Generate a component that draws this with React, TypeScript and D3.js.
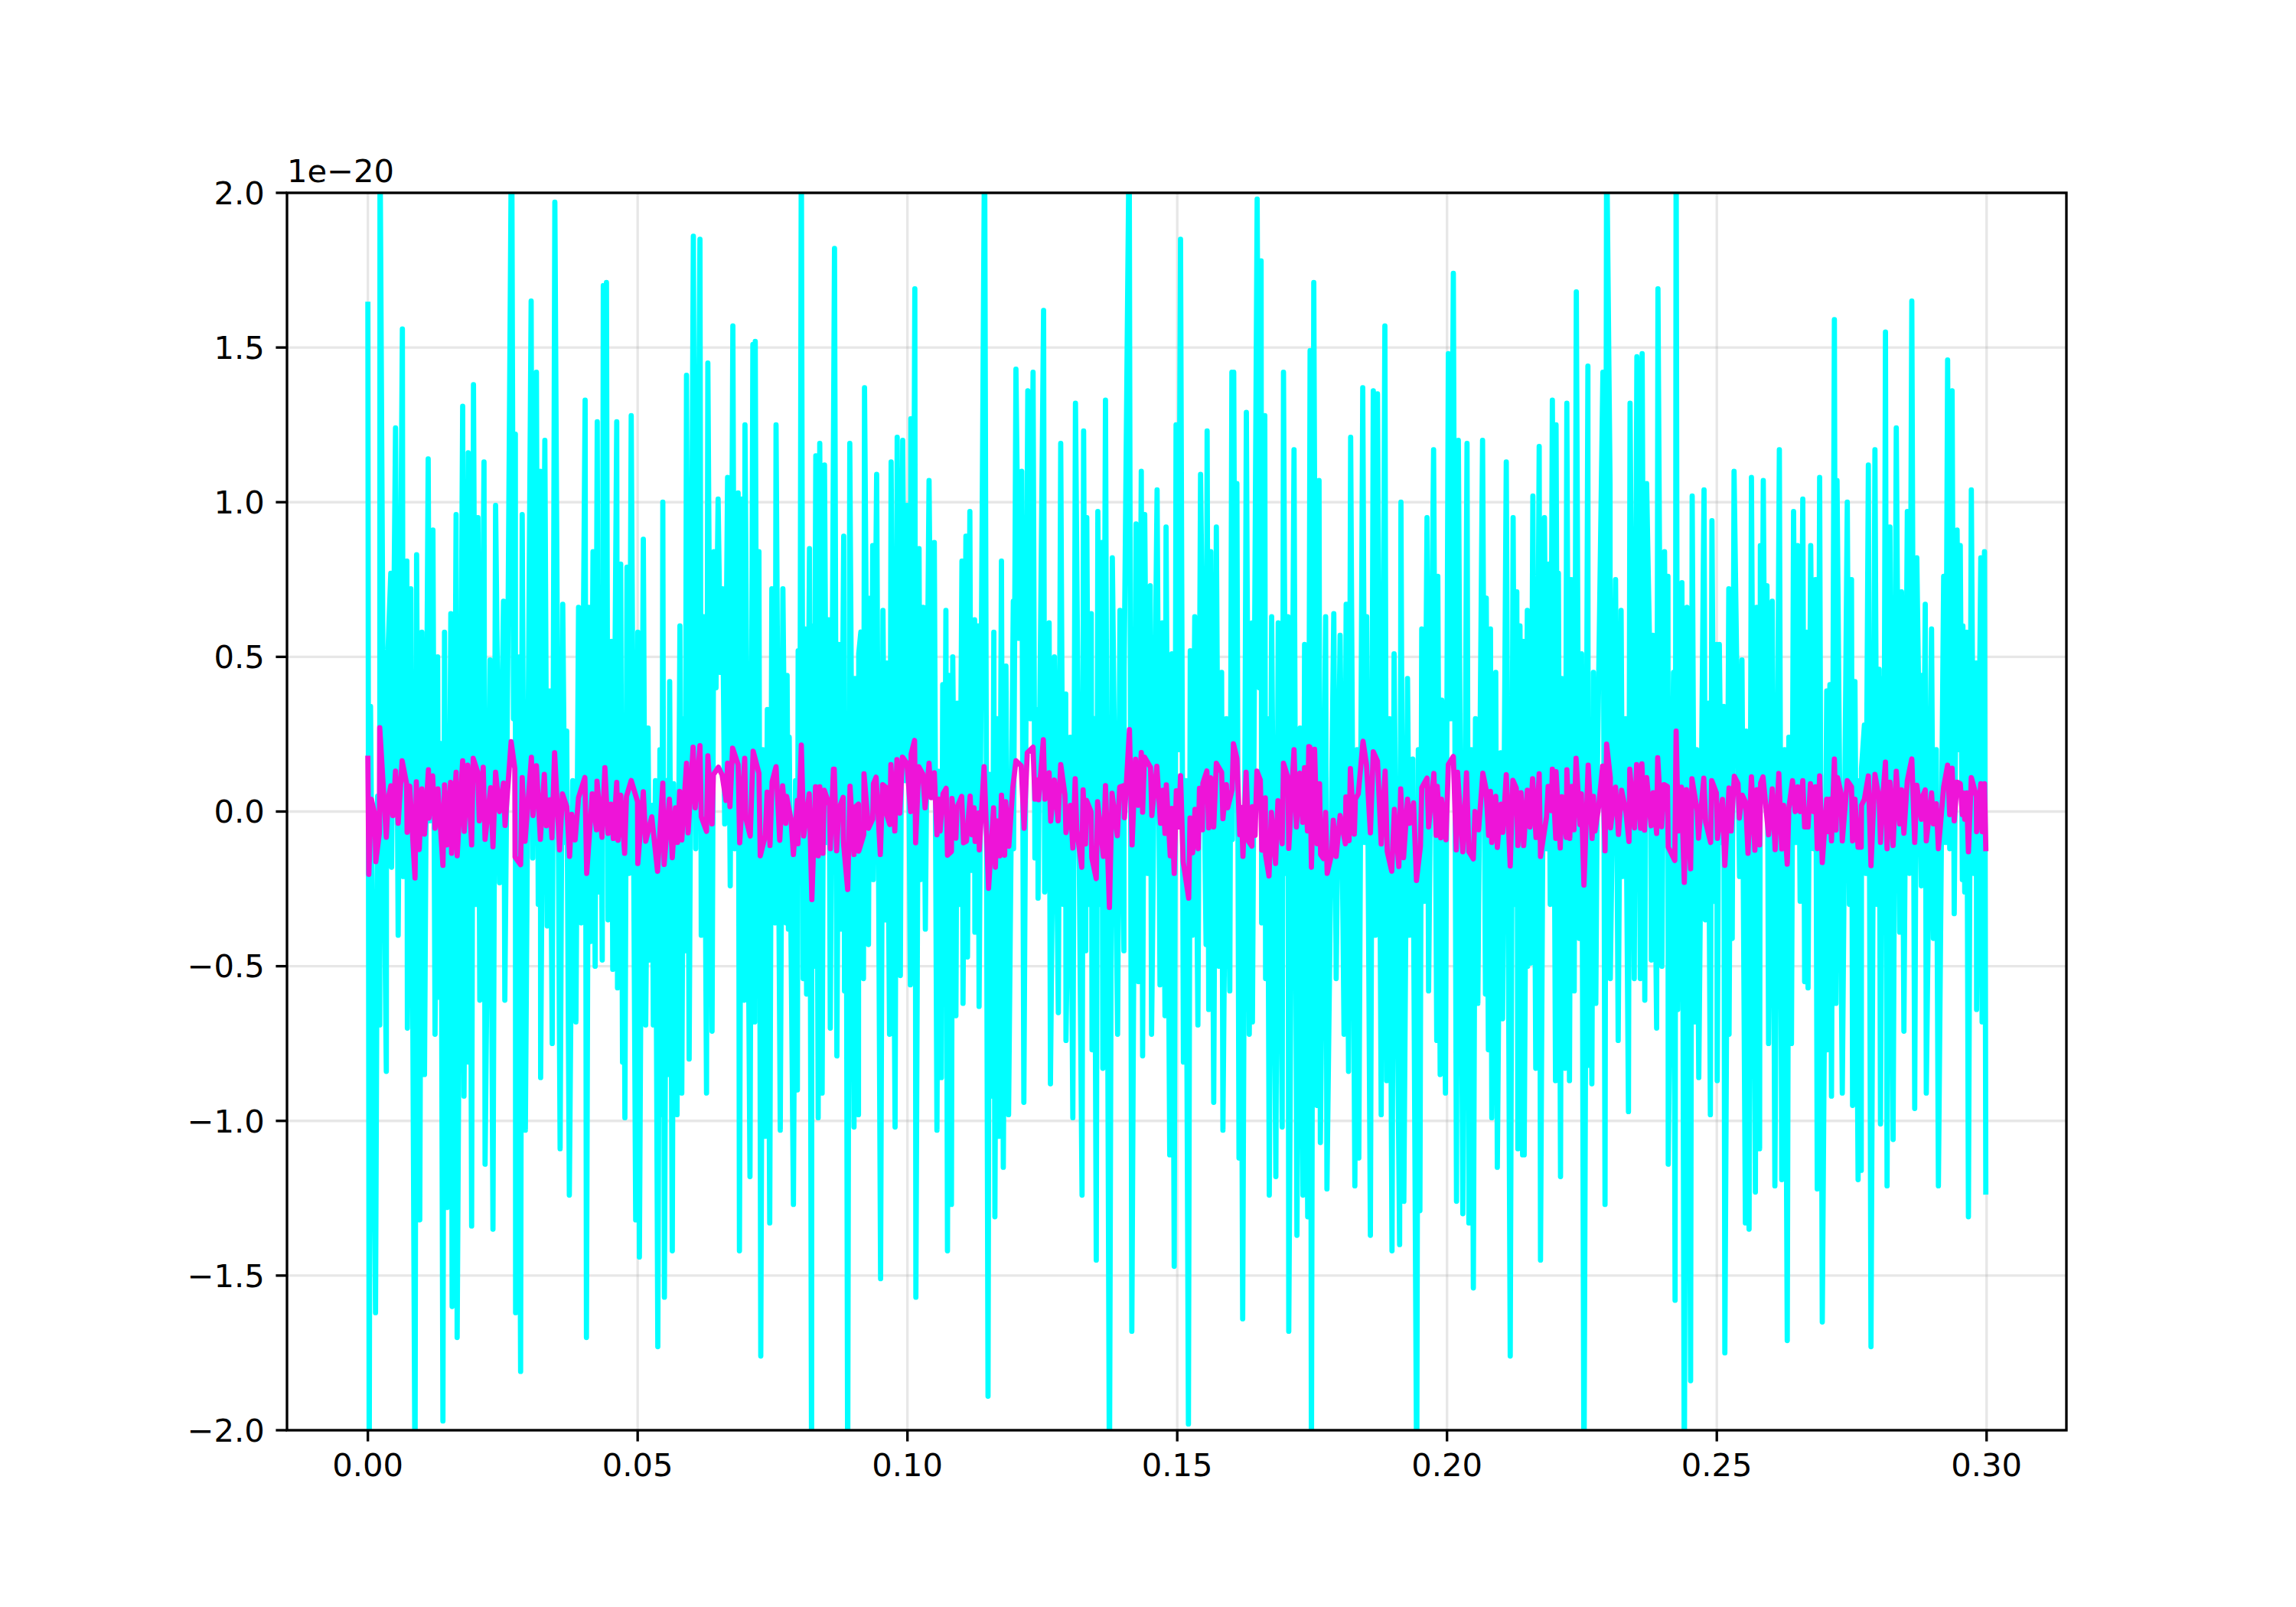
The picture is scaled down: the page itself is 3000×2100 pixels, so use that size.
import React, { useRef, useEffect } from 'react';
import * as d3 from 'd3';

type Reading = [number, number];

// Readings are [sample number, value in units of 1e-20]
const cyanA: Reading[] = [[0,1.64],[.5,-2.2],[1,.34],[2.9,-1.62],[4.5,-.69],[4.6,2.2],[6.1,-.1],[7,-.84],[7.1,.39],[8.7,.77],[9,-.18],[10.5,1.24],[11.5,-.4],[13.1,1.56],[13.4,-.21],[14.8,.81],[15,-.7],[16.3,.72],[17.9,-2.2],[18.5,.83],[19.7,-1.32],[20.5,.58],[21.5,-.85],[22.9,1.14],[23.5,-.03],[24.7,.91],[25.5,-.72],[26.5,.5],[26.9,-.6],[28.5,-1.97],[29.1,.58],[30.1,-1.28],[31.5,.64],[32,-1.6],[33.5,.96],[33.9,-1.7],[36,1.31],[36.5,-.92],[38.1,1.16],[38.2,-.81],[39.4,-1.34],[40.1,1.38],[41.8,.95],[42.5,-.61],[44.1,1.13],[44.5,-1.14],[46.4,.49],[47.5,-1.35],[48.5,.99],[50,-.23],[51.5,.68],[52,-.61],[53.1,.46],[54.6,2.3],[56,1.22],[56.1,-1.62],[58,-1.81],[58.6,.96],[59.8,-1.03],[62,1.65],[62.6,-.15],[64,1.42],[65.5,1.1],[65.6,-.86],[67.2,1.2],[68.1,-.37],[69.1,.39],[70,-.75],[71,1.97],[73,-1.09],[74,.67],[75.5,.26],[76.5,-1.24],[79,-.68],[80,.66],[81,-.36],[82.5,1.33],[83,-1.7],[83.9,.66],[84.6,-.42],[85.5,.84],[87.1,1.26],[87.5,-.26],[89,-.48],[89.4,1.7],[90.6,1.71],[91.2,-.35],[92.5,.55],[93,-.51],[94.5,1.26],[94.8,-.57],[96,.8],[96.7,-.81],[97.6,-.99],[98.4,.79],[100,1.28],[101.7,-1.32],[102.5,.58],[103.1,-1.44],[104.6,.88],[105.5,-.69],[106.4,.27],[107,-.48]];
const cyanB: Reading[] = [[108,.02],[108.4,-.69],[110.1,-1.73],[111.6,-.98],[112,1],[112.6,-1.57],[114.2,-.85],[114.6,.42],[115.6,-1.42],[116.1,.09],[117.4,-.98],[118.5,.6],[119.2,-.91],[120.5,-.45],[121,1.41],[122,-.8],[123.6,1.86],[124.5,-.12],[126.1,1.85],[126.6,-.4],[127.6,.63],[128.6,-.91],[129.1,1.45],[130.7,-.71],[131.4,.84],[133,1.01],[134.7,.72],[135.5,-.04],[136.6,1.08],[137.6,-.24],[138.6,1.57],[139.3,-.12],[140.6,1.03],[141.1,-1.42],[142,1.01],[142.9,-.61],[143.2,1.25],[145.1,-1.18],[146.2,1.51],[146.9,-.68],[147.1,1.52],[148.5,.84],[149.2,-1.76],[150,.2],[150.8,-1.05],[151.7,.33],[152.6,-1.33],[153.4,.72],[154.6,-.36],[155,1.25],[156.6,-1.03],[157.6,.72],[158.8,-.36],[159.2,.44],[159.7,-.38],[160,.24],[161.6,-1.27],[163.1,-.9],[163.4,.52],[164.6,2.2],[165.3,-.54],[166,.59],[166.6,-.59],[167.7,.85],[168.5,-2.2],[168.6,.6],[170.1,1.15],[171,-.99],[171.6,1.19],[172.5,-.91],[173.4,1.12],[175,.62],[175.6,-.7],[177.2,1.82],[178.1,-.79],[178.9,.54],[179.6,-.38],[180.7,.89],[181,-.58],[182.2,-2.2],[183,1.19],[184.6,-1.02],[184.9,.43],[186.3,-.98],[186.4,.51],[187.2,.58],[188.2,-.54],[188.6,1.37],[190.1,-.43],[190.7,.69],[191.7,.86],[191.9,-.22],[193.2,1.09],[194.7,-1.51],[195.6,.65],[196.5,-.35],[197.1,.48],[198.1,-.72],[198.7,1.13],[200.2,-1.02],[201,1.21],[202.2,-.53],[203.1,1.2],[204.8,.99],[206,-.56],[206.2,1.27],[207.7,1.69],[208.1,-1.57],[209.3,.85],[209.8,-.22],[210.9,.66],[211.7,-.38],[213.1,1.07],[215.1,.87],[216.1,-1.03],[216.7,.13],[217.5,-.86]];
const cyanC: Reading[] = [[217.8,-.86],[218.3,.41],[219,-.3],[219.5,.65],[220.1,-1.42],[220.7,.44],[221.6,-1.27],[222.1,.5],[223.3,-.66],[223.8,.35],[225.6,.81],[226,-.62],[227.1,.89],[227.7,-.47],[228.6,.97],[229.1,-.19],[230.4,.62],[230.5,-.39],[231.7,.6],[232.1,-.63],[234.2,2.2],[235.5,-1.89],[236,.12],[237.1,-.92],[237.7,.58],[238.1,-1.31],[239.6,-1.05],[240.6,.81],[241.3,-1.15],[242.3,.47],[243.3,-.98],[245.1,.68],[245.2,-.12],[246.1,1.43],[248.3,1.1],[249.1,-.94],[250.6,1.36],[252.6,1.42],[253.3,-.15],[254.4,.33],[254.5,-.28],[256.6,1.62],[257,-.26],[258.7,.61],[259.2,-.88],[260.7,.5],[262.2,-.65],[263.1,1.19],[265,.38],[265.1,-.74],[266.7,.24],[267.7,-.99],[268.7,1.32],[271.2,-1.24],[271.8,1.23],[272.6,-.45],[273,.95],[274.7,.64],[275,-.77],[276.6,-1.45],[277.2,.97],[278.7,.87],[279.1,-.83],[280.1,1.33],[281.6,-2.2],[282.7,.82],[284.7,-.72],[285.6,.65],[287.1,-.45],[287.2,.46],[289.1,2.2],[290.1,-1.68],[291.7,.93],[292.6,-.55],[293.7,1.1],[294.2,-.79],[295,.96],[297.1,.73],[297.6,-.72],[299.7,1.04],[300.8,-.56],[301.7,.61],[302.7,-.66],[303.1,.92],[304.5,-1.11],[305.3,.51],[306.2,-1.47],[306.9,1.25],[308.6,1.85],[309.7,-.81],[311.6,-1.98],[312.3,.52],[314,.63],[315.2,-.69],[316.2,1.09],[318.3,-.43],[318.7,1.23],[319.3,-.64],[320.1,.84],[321.2,-.94],[322.2,.92],[324.2,.45],[324.7,-1.03],[327.3,-.58],[328.1,1.42]];
const cyanD: Reading[] = [[328.3,-.09],[328.8,1.42],[330,1.06],[330.8,-1.12],[332.2,-1.64],[333.6,1.29],[334.7,-.72],[335.8,.61],[335.9,-.68],[337.7,1.98],[339.2,1.78],[339.4,-.36],[340.6,1.28],[340.9,-.54],[342.3,-1.24],[343.2,.63],[344.8,-1.18],[345.7,.61],[347.2,-1.02],[347.7,1.42],[349.4,.63],[349.7,-1.68],[351.7,1.17],[352.8,-1.37],[354,.27],[355.1,-1.24],[355.7,.54],[356.9,-1.31],[357.8,1.49],[358.3,-2.2],[359.2,1.71],[360.4,-.95],[361.2,1.07],[361.7,-1.07],[363.7,.63],[364.2,-1.22],[366.8,.64],[367.7,-.54],[369.2,.57],[370.7,-.72],[371.5,.67],[372.4,-.84],[373.2,1.21],[374.8,-1.21],[376.3,-1.12],[377.8,1.37],[379.3,.63],[380.7,-1.37],[381.8,1.36],[382.6,-.4],[383.4,1.35],[384.8,-.98],[386.2,1.57],[386.9,-.87],[388.9,-1.42],[389.7,.51],[391.8,-1.4],[392.3,1],[393.4,-1.26],[394.8,.43],[395.6,-.4],[396.8,.17],[398.3,-2.2],[399.5,-1.29],[400.2,.59],[401.2,-.29],[402.2,.95],[402.8,-.58],[404.7,1.17],[405.9,-.74],[406.3,.76],[407.2,-.85],[407.8,.36],[409.2,-.91],[410.3,1.48],[412.2,1.74],[413.4,-1.26],[414.1,1.2],[415.8,-1.3],[417.4,1.19],[418.1,-1.33],[419.8,-1.54],[421.5,-.62],[423.3,1.2],[424.4,-.59],[424.7,.69],[425.5,-.77],[426.3,.59],[426.8,-.99],[428.3,.45],[428.9,-1.15],[430.2,.19],[430.9,-.67],[432.3,1.13],[433.8,-1.76],[434.9,.95],[436.3,.71],[436.7,-1.09],[437.5,.6],[438.5,-1.11]];
const cyanE: Reading[] = [[438.8,.55],[439.1,-1.11],[440.3,.65],[440.4,-.5],[441.5,-.49],[442.4,1.02],[443.5,-.83],[444.8,1.18],[445.3,-1.45],[446.8,.95],[447.6,-.12],[448.3,.8],[449.8,1.33],[451,-.87],[451.2,1.25],[452.1,.77],[452.9,-1.18],[453.4,.43],[454.6,-.83],[455.3,1.32],[456.3,-.87],[457,.75],[458.1,-.58],[458.9,1.68],[460,-.41],[460.9,.51],[461.8,-2.2],[463.3,1.44],[463.4,-.82],[464.8,-.88],[465.4,.45],[466.3,-.62],[466.9,.13],[469,1.42],[469.8,-1.27],[470.4,2.2],[471.7,1.06],[471.8,-.54],[473.8,.75],[474.8,-.74],[475.9,.65],[476.5,-.21],[478.7,-.97],[479.3,1.32],[480.9,-.54],[481.9,1.47],[483.2,-.54],[483.9,1.48],[484.9,-.61],[485.6,1.06],[487,.4],[487.4,-.48],[488,.57],[489.4,-.7],[489.9,1.69],[491.4,-.5],[492.4,.84],[493.7,.76],[493.8,-1.14],[495.8,.45],[496.4,-1.58],[496.8,2.2],[497.4,-.64],[499,.74],[499.9,-2.2],[500.9,.66],[502.3,-1.84],[502.9,1.02],[503.9,-.68],[505.4,-.86],[507.4,1.04],[507.9,-.35],[509,.35],[509.8,-.98],[510.4,.94],[511.3,-.29],[512.2,.54],[512.4,-.87],[513.2,.54],[514.9,.34],[515.3,-1.75],[516.8,.72],[516.9,-.72],[518.1,-.41],[518.8,1.1],[520.9,-.21],[521.8,.49],[523.1,-1.33],[523.4,.26],[524.5,-1.35],[525.4,1.08],[526.9,-1.23],[527.4,.66],[528.5,-1.09],[528.8,.86],[529.9,1.07],[531.3,.73],[531.9,-.75],[533.3,.68],[534.3,-1.21],[536,1.17],[536.9,-1.19],[539,-1.71],[539.6,.24],[540.6,-.75],[541.4,.97],[542.9,.86],[543.9,-.29],[544.9,1.01],[545.6,-.55],[546.4,.58],[546.9,-.57],[547.9,.86],[548.9,-.12]];
const cyanF: Reading[] = [[549.7,.75],[550.4,-1.22],[551.3,1.08],[552.3,-1.65],[554,.39],[554.3,-.77],[555.2,.41],[555.8,-.92],[556.9,1.59],[557.5,-.62],[557.9,1.07],[559.9,-.91],[561.8,1],[563.4,.75],[563.8,-.95],[564.7,.42],[565.9,-1.19],[567.1,-1.16],[567.2,.14],[568.3,.28],[569.8,1.12],[570.8,-1.73],[572.3,1.17],[573.9,.46],[574.4,-1.01],[575.2,.43],[576.3,1.55],[576.9,-1.21],[578,.92],[579.2,-1.06],[580.4,1.24],[581.7,-.39],[582.4,.71],[583.3,-.71],[584.6,.97],[586.3,1.65],[587.4,-.96],[588.2,.82],[589.9,-.24],[590,.44],[591.4,.67],[591.8,-.91],[593.8,.59],[594.5,-.41],[595.6,.2],[596.4,-1.21],[598.4,.76],[599.9,1.46],[600.7,-.12],[601.6,1.36],[602.4,-.33],[603.5,.91],[604.7,.86],[605.5,-.22],[605.7,.6],[606.4,-.26],[607.1,.58],[607.8,-1.31],[608.9,1.04],[610.8,.48],[610.9,-.64],[612.5,.82],[613,-.68],[613.9,.84],[614.4,-1.23]];
// Samples hidden inside the solid band, estimated by eye
const cyanBand: Reading[] = [[3.7,.05],[27.7,.22],[38.8,.3],[41,-.3],[55.3,.3],[57,.5],[64.7,-.3],[74.8,-.1],[77.8,.1],[86.3,-.5],[88.2,.5],[90,.5],[97.1,.2],[99.2,-.2],[109.2,.1],[110.9,.2],[113.4,.1],[119.9,.3],[132.2,.4],[133.9,.45],[147.8,-.3],[162.4,.1],[164,-.2],[169.3,-.5],[174.2,-.1],[181.6,.3],[191.2,-.1],[204,.1],[207,.2],[214.1,.1],[224.7,-.3],[238.9,.3],[247.2,.56],[251.6,.3],[264,-.3],[273.8,-.3],[275.8,.3],[278,-.3],[296,-.2],[307.8,.2],[310.6,.1],[313.1,-.4],[323.2,-.5],[326,.3],[329.4,.1],[331.5,0],[338.5,.4],[341.6,.3],[348.6,-.2],[375.6,.2],[378.6,-.1],[387.9,.3],[398.9,.2],[411.2,.3],[419,.2],[420.6,.3],[435.6,-.3],[441,.3],[449,-.3],[451.7,.1],[464.1,.1],[477.6,.3],[493,.1],[504.6,.2],[514,-.1],[517.5,.3],[529.3,.1],[530.6,.1],[538,.2],[542.2,-.1],[562.6,-.3],[566.5,.1],[568.9,-.2],[573.1,-.3],[575.7,-.2],[585.4,-.2],[590.7,-.1],[599.1,-.1],[604.1,.2],[609.8,-.2]];

const magentaA: Reading[] = [[0,.172],[.35,-.203],[1.3,.04],[2.65,-.009],[3,-.162],[4.4,-.067],[4.5,.271],[7,-.083],[7.8,.045],[8.7,.083],[9.5,-.013],[10.5,.131],[11.5,-.038],[13,.164],[14.7,.09],[14.9,-.067],[15.9,.082],[17.9,-.215],[18.4,.096],[19.5,-.123],[20.5,.073],[21.5,-.073],[23,.135],[23.2,-.021],[24.6,.115],[25.5,-.054],[26.6,.073],[28.5,-.174],[29.1,.086],[30,-.108],[31.4,.094],[31.8,-.135],[33.5,.127],[33.9,-.143],[36,.164],[36.6,-.064],[37.9,.15],[39.4,-.108],[40,.172],[41.7,.127],[42.3,-.03],[43.8,.143],[44.5,-.09],[46.6,.077],[47.5,-.114],[48.5,.127],[50,0],[51.5,.092],[52.1,-.045],[54.4,.226],[55.8,.139],[55.9,-.147],[58,-.172],[58.6,.11],[59.7,-.096],[62.1,.175],[62.7,-.013],[64,.148],[65.5,-.09],[67,.12],[67.8,-.046],[69.1,.038],[69.9,-.085],[70.9,.19],[72.8,-.124],[73.9,.057],[75.5,.016],[76.6,-.145],[77.4,-.009],[78.7,-.092],[80,.045],[82.4,.11],[83.1,-.2],[85.2,.057],[86.8,-.059],[87,.098],[88.9,-.083],[90,.142],[91.2,-.071],[92.3,.024],[93.2,-.087],[94.5,.094],[95,-.093],[96,.053],[97.5,-.135],[98.2,.049],[100,.1],[102.4,.032],[102.5,-.168],[104.6,.064],[105.5,-.096],[107.8,-.017],[110,-.193],[112,.092],[112.5,-.171],[114.5,.04],[115.6,-.149],[116.8,.012],[117.6,-.1],[118.4,.065],[119.2,-.092],[121,.156],[121.6,-.069],[123.5,.208],[124.3,.012],[126.1,.213],[126.6,-.017],[128.6,-.064],[129.1,.18],[130.7,-.04],[131.2,.119],[133.1,.143],[134.5,.119],[136,.036],[136.6,.156],[137.5,.016],[138.5,.205],[140.6,.152],[141.2,-.101],[143.1,.172],[143.5,-.021],[145.2,-.079],[146.3,.195],[148.5,.124],[149,-.143],[150.9,-.079],[151.6,.063],[152.7,-.11],[153.5,.096],[155,.145],[156.4,-.093],[157.5,.083],[158.7,-.038],[159,.049],[160.7,-.026],[161.6,-.139],[163.1,.036],[163.3,-.104],[164.6,.215],[165.5,-.079],[167.6,.057],[168.6,-.285],[170,.08],[171,-.143],[171.6,.08],[172.8,-.135],[173.3,.069],[175.3,.02],[175.6,-.12],[176.8,.137]];
const magentaB: Reading[] = [[177.1,.137],[178,-.127],[178.8,.007],[180.5,.046],[180.6,-.1],[182.2,-.252],[183.1,.082],[184.6,-.139],[184.9,.013],[186.3,.024],[186.4,-.128],[188.3,-.075],[188.4,.122],[190.1,-.054],[191.7,-.025],[192,.09],[193,.111],[194.6,-.139],[195.5,.087],[196.9,.077],[197,-.009],[198.2,-.042],[198.6,.152],[200.1,-.063],[200.9,.168],[202,-.005],[203,.176],[204.7,.156],[206.1,0],[206.3,.186],[207.6,.23],[208,-.101],[209.2,.145],[210.7,.122],[211.6,.012],[213.1,.156],[213.9,.045],[215.1,.125],[216.1,-.075],[216.8,.04],[217.3,-.063],[218.4,.057],[219.6,.075],[220.1,-.141],[221.6,-.129],[221.8,.042],[223.3,-.086],[223.7,.013],[225.5,.049],[226.2,-.101],[227.3,-.096],[228.7,.05],[229.4,-.075],[230.2,.012],[230.6,-.097],[231.9,-.005],[232.2,-.124],[234,.145],[235.7,-.248],[237.6,.012],[238.3,-.18],[238.8,-.03],[240,-.143],[240.6,.053],[241.8,-.141],[242.2,.032],[243.4,-.112],[244.9,.077],[246.1,.164],[248.1,.148],[249.2,-.054],[250.4,.19],[252.6,.208],[253.3,.04],[254.3,.102],[254.7,.038],[256.5,.232],[257.1,.04],[258.7,.125],[259.3,-.031],[260.7,.102],[262.1,-.03],[263.1,.152],[264.7,.055],[265.1,-.068],[266.8,.02],[267.7,-.118],[268.6,.106],[269.2,-.059],[271.1,-.18],[271.6,.07],[272.5,-.105],[272.9,.036],[274.6,0],[274.9,-.149],[276.6,-.217],[277.1,.032],[279.3,-.145],[280.1,.084],[281.6,-.31],[282.6,.059],[284.6,-.078],[285.5,.079],[287.2,.084],[287.3,-.02],[289.2,.265],[290.2,-.108],[291.5,.169],[292.6,.02],[293.7,.191],[294.2,-.002],[294.9,.176],[297.2,.143],[297.7,-.013],[299.6,.146],[301,-.038],[301.9,.069],[302.7,-.071],[303.2,.086],[304.7,-.143],[305.3,.01],[306.2,-.2],[307,.067],[307.9,-.05],[308.6,.116],[309.6,-.162],[311.7,-.28],[312.2,-.021],[313.2,-.133],[314.1,.007],[315.3,-.12],[315.8,.075],[316.9,-.059],[317.1,.092],[318.6,.131],[319.3,-.053],[320,.109],[321.2,-.05],[322.2,.156],[324.2,.127],[324.7,-.023],[326,.087],[326.5,.012],[328.2,.07],[328.7,.219],[330,.172],[331.1,-.075],[331.7,.013],[332.3,-.145],[333.5,.127],[334.5,-.097],[335.7,-.112],[335.9,.016],[336.9,-.077],[337.6,.131],[338.9,.102],[339.5,-.125],[340.8,.044],[340.9,-.141],[342.2,-.208],[343.1,-.003],[344.7,-.168],[345.6,.035],[347.2,-.104],[347.7,.156],[349.4,.109],[349.7,-.119],[351.7,.2],[352.6,-.05],[353.9,.124],[355,-.035],[355.7,.142],[356.8,-.063],[357.3,.21]];
const magentaC: Reading[] = [[357.7,.209],[358.3,-.18],[359.5,.201],[360.5,-.104],[361.4,.09],[361.8,-.139],[362.9,-.152],[363.7,-.003],[364.3,-.2],[366,-.137],[366.6,-.028],[367.7,-.145],[369.2,-.013],[371.2,-.104],[371.4,.047],[372.6,-.094],[373.1,.139],[374.6,-.073],[375,.04],[376.1,.057],[377.9,.227],[379.2,.153],[380.7,-.069],[381.8,.193],[383.4,.163],[384.8,-.105],[386.3,.131],[387.1,-.129],[388.8,-.193],[389.8,.007],[391.5,-.178],[392.2,.073],[393.3,-.149],[394.8,.04],[395.6,-.038],[397.1,.028],[398.2,-.223],[399.7,-.112],[400.2,.077],[402.2,.108],[402.8,-.05],[404.8,.123],[405.7,-.077],[406.1,.081],[407.4,-.085],[407.7,.04],[409.4,-.091],[410.3,.152],[412.2,.178],[413.3,-.124],[413.8,.127],[415.8,-.13],[417.2,.125],[418.1,-.13],[419.8,-.153],[420.4,0],[421.8,-.059],[423.4,.124],[424.6,.073],[425.6,-.077],[426.3,.065],[426.8,-.1],[428.3,.049],[428.9,-.116],[430.3,.024],[431,-.067],[432.3,.119],[433.8,-.176],[434.8,.101],[436.1,.076],[436.7,-.11],[437.9,.061],[438.9,-.11],[440.3,.069],[441.3,-.05],[442.3,.106],[443.6,-.084],[444.8,.122],[445.3,-.145],[447.6,-.017],[448.2,.081],[449.4,.003],[449.8,.137],[451.1,-.087],[451.2,.129],[452.8,-.118],[453.4,.048],[455.1,-.084],[455.3,.135],[456.4,-.087],[457.2,.081],[458,-.059],[458.8,.172],[460.3,-.042],[460.8,.057],[461.8,-.238],[463.4,.15],[464.9,-.087],[465.4,.049],[466,-.063],[467.4,.017],[468.9,.147],[469.8,-.127],[470.4,.218],[471.8,.11],[471.9,-.053],[473.8,.079],[474.9,-.074],[476.1,.069],[477.7,0],[478.9,-.097],[479.2,.137],[481,-.053],[481.8,.152],[483.3,-.054],[483.8,.154],[484.8,-.06],[485.6,.11],[487.3,-.046],[488.1,.061],[489.4,-.071],[489.8,.174],[491.3,-.049],[492.2,.087],[493.5,.081],[493.8,-.115],[496.3,-.158],[496.8,.26],[497.6,-.063],[498.8,.079],[499.9,-.229],[500.7,.071],[502.3,-.185],[502.8,.106],[504.8,.003],[505.3,-.086],[507.3,.108],[508,-.034],[509.9,-.1],[510.3,.1],[512.1,.06],[512.5,-.087],[514.4,.039],[515.3,-.174],[516.9,.076],[517.7,-.063],[518.9,.114],[520.3,.09],[520.8,-.021],[521.9,.053],[523.2,.03],[524.1,-.135],[525.4,.112],[526.7,-.125],[527.5,.071],[528.5,-.108],[528.9,.092],[529.8,.112],[531.9,-.075],[533.3,.073],[534.4,-.123],[535.8,.123],[536.9,-.121],[537.6,.02]];
const magentaD: Reading[] = [[539,-.17],[539.6,.01],[541,.1],[542,0],[543,.08],[543.9,0],[544.9,.1],[545.6,-.05],[546.9,-.05],[547.8,.09],[548.9,0],[549.7,.08],[550.4,-.12],[551.3,.115],[552.3,-.165],[554,.04],[554.3,-.065],[555.2,.04],[555.8,-.095],[556.9,.17],[557.5,-.06],[558.1,.11],[559.4,.06],[559.9,-.095],[561.8,.1],[563.4,.08],[563.8,-.095],[564.7,.04],[565.9,-.115],[567.1,-.115],[567.2,.02],[568.3,.04],[569.8,.115],[570.8,-.175],[572.3,.12],[573.9,.04],[574.4,-.1],[575.2,.04],[576.3,.16],[576.9,-.12],[578,.095],[579.2,-.11],[580.4,.13],[581.7,-.04],[582.4,.07],[583.3,-.07],[584.6,.1],[586.3,.17],[587.4,-.1],[588.2,.085],[589.9,-.025],[590,.04],[591.4,.07],[591.8,-.095],[593.8,.06],[594.5,-.04],[595.6,.025],[596.4,-.12],[598.4,.08],[599.9,.15],[600.7,-.01],[601.6,.14],[602.4,-.03],[603.5,.095],[604.7,.09],[605.5,-.01],[605.7,.06],[606.4,-.025],[607.1,.06],[607.8,-.13],[608.9,.11],[610.8,.05],[610.9,-.065],[612.5,.09],[613,-.065],[613.9,.09],[614.4,-.12]];

const xTicks = [0, 0.05, 0.1, 0.15, 0.2, 0.25, 0.3];
const yTicks = [-2, -1.5, -1, -0.5, 0, 0.5, 1, 1.5, 2];

const sampleRate = 2049;
const width = 3000;
const height = 2100;
const left = 375;
const right = 2700;
const top = 252;
const bottom = 1869;
const tick = 14.6;
const font = '"DejaVu Sans"';
const fontSize = 41.67;

const App: React.FC = () => {
  const ref = useRef<SVGSVGElement | null>(null);

  useEffect(() => {
    if (!ref.current) return;
    const svg = d3.select<SVGSVGElement, unknown>(ref.current);
    svg.selectAll('*').remove();

    const x = d3.scaleLinear().domain([-0.01499, 0.31479]).range([left, right]);
    const y = d3.scaleLinear().domain([-2, 2]).range([bottom, top]);

    svg.append('rect').attr('width', width).attr('height', height).attr('fill', '#fff');

    svg.append('clipPath').attr('id', 'plot-area')
      .append('rect')
      .attr('x', left).attr('y', top)
      .attr('width', right - left).attr('height', bottom - top);

    // Grid under the traces
    const grid = svg.append('g').attr('stroke', '#b0b0b0').attr('stroke-opacity', 0.3).attr('stroke-width', 3.33);
    xTicks.forEach(t => {
      grid.append('line').attr('x1', x(t)).attr('x2', x(t)).attr('y1', top).attr('y2', bottom);
    });
    yTicks.forEach(t => {
      grid.append('line').attr('x1', left).attr('x2', right).attr('y1', y(t)).attr('y2', y(t));
    });

    const line = d3.line<Reading>()
      .x(d => x(d[0] / sampleRate))
      .y(d => y(d[1]));

    const cyan = [...cyanA, ...cyanB, ...cyanC, ...cyanD, ...cyanE, ...cyanF, ...cyanBand]
      .sort((a, b) => d3.ascending(a[0], b[0]));
    const magenta = [...magentaA, ...magentaB, ...magentaC, ...magentaD];

    const traces: [Reading[], string][] = [
      [cyan, '#00ffff'],
      [magenta, '#ee14d8'],
    ];
    traces.forEach(([readings, colour]) => {
      svg.append('path')
        .attr('d', line(readings))
        .attr('fill', 'none')
        .attr('stroke', colour)
        .attr('stroke-width', 6.8)
        .attr('stroke-linejoin', 'round')
        .attr('stroke-linecap', 'square')
        .attr('clip-path', 'url(#plot-area)');
    });

    // Axes, ticks outward
    const xAxis = d3.axisBottom(x)
      .tickValues(xTicks)
      .tickFormat(d => d3.format('.2f')(d as number))
      .tickSize(tick).tickPadding(tick).offset(0);
    const yAxis = d3.axisLeft(y)
      .tickValues(yTicks)
      .tickFormat(d => d3.format('.1f')(d as number))
      .tickSize(tick).tickPadding(tick).offset(0);

    const xG = svg.append('g').attr('transform', `translate(0,${bottom})`).call(xAxis);
    const yG = svg.append('g').attr('transform', `translate(${left},0)`).call(yAxis);
    [xG, yG].forEach(g => {
      g.select('.domain').remove();
      g.selectAll('line').attr('stroke', '#000').attr('stroke-width', 3.33);
      g.selectAll('text').attr('fill', '#000').attr('transform', 'translate(0,1.5)');
      g.attr('font-family', font).attr('font-size', fontSize);
    });

    // Spines
    svg.append('rect')
      .attr('x', left).attr('y', top)
      .attr('width', right - left).attr('height', bottom - top)
      .attr('fill', 'none').attr('stroke', '#000').attr('stroke-width', 3.33);

    svg.append('text')
      .attr('x', left)
      .attr('y', top - 14)
      .attr('font-family', font)
      .attr('font-size', fontSize)
      .attr('fill', '#000')
      .text('1e\u221220');
  }, []);

  return (
    <svg
      ref={ref}
      width={width}
      height={height}
      style={{ position: 'absolute', left: 0, top: 0, display: 'block' }}
    />
  );
};

export default App;
